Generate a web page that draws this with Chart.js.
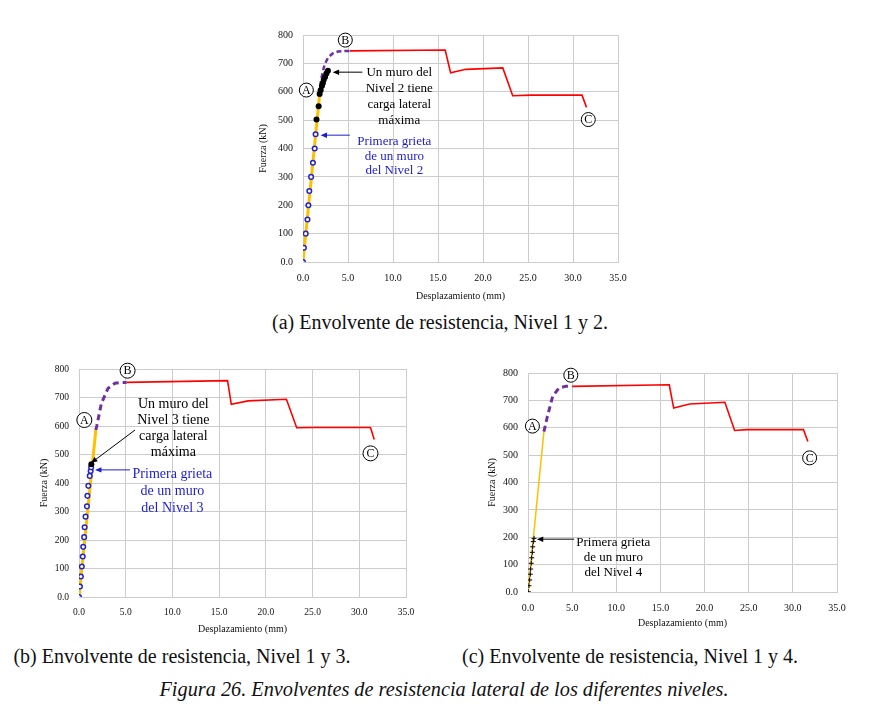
<!DOCTYPE html>
<html>
<head>
<meta charset="utf-8">
<script src="https://cdn.jsdelivr.net/npm/chart.js@4.4.1/dist/chart.umd.min.js"></script>
<style>
  html, body { margin: 0; padding: 0; background: #fff; }
  body { width: 870px; height: 705px; position: relative; overflow: hidden;
         font-family: 'Liberation Serif', 'Times New Roman', serif; color: #111; }
  canvas { position: absolute; }
  .cap { position: absolute; font-size: 20px; white-space: nowrap; transform: translateX(-50%); line-height: 1; }
  .fig { font-style: italic; font-size: 20.3px; }
</style>
</head>
<body>
<canvas id="chartA"></canvas>
<canvas id="chartB"></canvas>
<canvas id="chartC"></canvas>
<div class="cap" style="left:440px; top:312px;">(a) Envolvente de resistencia, Nivel 1 y 2.</div>
<div class="cap" style="left:182px; top:646px;">(b) Envolvente de resistencia, Nivel 1 y 3.</div>
<div class="cap" style="left:630px; top:646px;">(c) Envolvente de resistencia, Nivel 1 y 4.</div>
<div class="cap fig" style="left:444px; top:679px;">Figura 26. Envolventes de resistencia lateral de los diferentes niveles.</div>
<script>
// tick labels and titles
const xTickLabels = ['0.0', '5.0', '10.0', '15.0', '20.0', '25.0', '30.0', '35.0'];
const yTickLabels = ['0.0', '100', '200', '300', '400', '500', '600', '700', '800'];
const xTitle = 'Desplazamiento (mm)';
const yTitle = 'Fuerza (kN)';

// ---- (a) Nivel 1 y 2 ----
const elasticA_x = [0, 1.85];
const elasticA_y = [0, 592];
const crackA_x = [0, 0.1, 0.3, 0.5, 0.6, 0.7, 0.9, 1.1, 1.3, 1.4];
const crackA_y = [0, 50, 100, 150, 200, 250, 300, 350, 400, 450];
const maxA_x = [1.5, 1.74, 1.85, 1.96, 2.1, 2.2, 2.3, 2.45, 2.6, 2.77];
const maxA_y = [502, 549, 592, 605, 620, 630, 641, 652, 664, 674];
const transA_x = [1.85, 2.0, 2.2, 2.4, 2.8, 3.3, 3.9, 4.6, 5.2];
const transA_y = [592, 641, 670, 696, 721, 735, 742, 744, 744];
const plasticA_x = [5.2, 15.8, 16.4, 18.1, 22.2, 23.3, 25.3, 31.0, 31.5];
const plasticA_y = [744, 747, 667, 679, 684, 586, 588, 588, 545];

// ---- (b) Nivel 1 y 3 ----
const elasticB_x = [0, 1.8];
const elasticB_y = [0, 586];
const crackB_x = [0, 0.1, 0.2, 0.3, 0.4, 0.45, 0.55, 0.6, 0.7, 0.85, 0.9, 1.0, 1.15, 1.25, 1.3];
const crackB_y = [0, 37, 72, 107, 142, 176, 210, 245, 282, 318, 355, 390, 425, 442, 455];
const maxB_x = [1.32];
const maxB_y = [466];
const transB_x = [1.8, 1.9, 2.4, 3.1, 3.85, 4.6, 5.1];
const transB_y = [586, 600, 680, 732, 750, 753, 753];
const plasticB_x = [5.1, 15.9, 16.3, 18.1, 22.2, 23.3, 25.1, 31.2, 31.6];
const plasticB_y = [753, 759, 676, 688, 694, 594, 595, 595, 553];

// ---- (c) Nivel 1 y 4 ----
const elasticC_x = [0, 1.8];
const elasticC_y = [0, 586];
const crackC_x = [0.03, 0.11, 0.19, 0.26, 0.3, 0.37, 0.42, 0.49, 0.53, 0.6, 0.68];
const crackC_y = [1, 23, 44, 65, 84, 105, 125, 145, 165, 184, 196];
const transC_x = [1.8, 2.2, 2.8, 3.5, 4.3, 5.0];
const transC_y = [586, 642, 715, 745, 752, 752];
const plasticC_x = [5.0, 16.0, 16.5, 18.3, 22.3, 23.4, 24.8, 31.2, 31.7];
const plasticC_y = [751, 757, 672, 687, 693, 590, 593, 593, 550];

const FONT = "'Liberation Serif', 'Times New Roman', serif";

function pts(xs, ys) {
    return xs.map((x, i) => ({x: x, y: ys[i]}));
}

// letters in circles, texts and arrows, placed in data units
const notesPlugin = {
    id: 'notes',
    afterDatasetsDraw(chart, args, opts) {
        const ctx = chart.ctx;
        const sx = chart.scales.x, sy = chart.scales.y;
        const px = v => sx.getPixelForValue(v);
        const py = v => sy.getPixelForValue(v);
        ctx.save();
        for (const c of opts.circles || []) {
            ctx.beginPath();
            ctx.arc(px(c.x), py(c.y), opts.r, 0, Math.PI * 2);
            ctx.fillStyle = '#fff';
            ctx.fill();
            ctx.lineWidth = 1;
            ctx.strokeStyle = '#000';
            ctx.stroke();
            ctx.fillStyle = '#000';
            ctx.font = '12px ' + FONT;
            ctx.textAlign = 'center';
            ctx.textBaseline = 'middle';
            ctx.fillText(c.t, px(c.x), py(c.y) + 0.5);
        }
        for (const n of opts.texts || []) {
            ctx.fillStyle = n.color;
            ctx.font = n.size + 'px ' + FONT;
            ctx.textAlign = 'center';
            ctx.textBaseline = 'middle';
            n.lines.forEach((l, i) => ctx.fillText(l, px(n.x), py(n.y) + i * n.lh));
        }
        for (const a of opts.arrows || []) {
            const x1 = px(a.x1), y1 = py(a.y1), x2 = px(a.x2), y2 = py(a.y2);
            const ang = Math.atan2(y2 - y1, x2 - x1);
            ctx.strokeStyle = a.color;
            ctx.fillStyle = a.color;
            ctx.lineWidth = 1;
            ctx.beginPath();
            ctx.moveTo(x1, y1);
            ctx.lineTo(x2 - 5 * Math.cos(ang), y2 - 5 * Math.sin(ang));
            ctx.stroke();
            ctx.beginPath();
            ctx.moveTo(x2, y2);
            ctx.lineTo(x2 - 7 * Math.cos(ang - 0.4), y2 - 7 * Math.sin(ang - 0.4));
            ctx.lineTo(x2 - 7 * Math.cos(ang + 0.4), y2 - 7 * Math.sin(ang + 0.4));
            ctx.closePath();
            ctx.fill();
        }
        ctx.restore();
    }
};

function makeChart(id, box, datasets, notes, tickSize) {
    // box = plot area [left, top, right, bottom], y title x, x title y
    const [pl, pt, pr, pb] = box.plot;
    const left = box.yTitleX - 10, bottom = box.xTitleY + 10;
    const top = pt - 20, right = pr + 20;
    const cv = document.getElementById(id);
    cv.style.left = left + 'px';
    cv.style.top = top + 'px';
    cv.style.width = (right - left) + 'px';
    cv.style.height = (bottom - top) + 'px';
    cv.width = right - left;
    cv.height = bottom - top;
    const gridColor = '#cccccc';
    return new Chart(cv, {
        type: 'scatter',
        data: {datasets: datasets},
        options: {
            responsive: false,
            animation: false,
            devicePixelRatio: 1,
            layout: {padding: {top: 20, right: 20, left: 0, bottom: 0}},
            plugins: {legend: {display: false}, tooltip: {enabled: false}, notes: notes},
            scales: {
                x: {
                    type: 'linear', min: 0, max: 35,
                    afterFit: s => { s.height = bottom - pb; },
                    ticks: {stepSize: 5, padding: 10, color: '#111', font: {family: FONT, size: tickSize},
                            callback: (v) => xTickLabels[Math.round(v / 5)]},
                    grid: {color: gridColor, drawTicks: false},
                    border: {color: gridColor},
                    title: {display: true, text: xTitle, color: '#111', font: {family: FONT, size: 10}, padding: 4}
                },
                y: {
                    type: 'linear', min: 0, max: 800,
                    afterFit: s => { s.width = pl - left; },
                    ticks: {stepSize: 100, padding: 10, color: '#111', font: {family: FONT, size: tickSize},
                            callback: (v) => yTickLabels[Math.round(v / 100)]},
                    grid: {color: gridColor, drawTicks: false},
                    border: {color: gridColor},
                    title: {display: true, text: yTitle, color: '#111', font: {family: FONT, size: 10}, padding: 4}
                }
            }
        },
        plugins: [notesPlugin]
    });
}

const YELLOW = '#FFC000', PURPLE = '#7030A0', RED = '#FF0000', BLUE = '#2424c8';

function lineSet(xs, ys, color, width, dash) {
    return {data: pts(xs, ys), showLine: true, borderColor: color, borderWidth: width,
            borderDash: dash || [], pointRadius: 0, tension: 0, fill: false};
}
function circleSet(xs, ys) {
    return {data: pts(xs, ys), showLine: false, pointStyle: 'circle', pointRadius: 2.3,
            pointBorderWidth: 1.5, pointBorderColor: BLUE, pointBackgroundColor: '#fff'};
}
function dotSet(xs, ys) {
    return {data: pts(xs, ys), showLine: false, pointStyle: 'circle', pointRadius: 3,
            pointBorderWidth: 0, pointBackgroundColor: '#000'};
}
function crossSet(xs, ys) {
    return {data: pts(xs, ys), showLine: false, pointStyle: 'cross', pointRadius: 2.5,
            pointBorderWidth: 1, pointBorderColor: '#000'};
}

makeChart('chartA', {plot: [303, 35, 618, 262], yTitleX: 263, xTitleY: 296}, [
    dotSet(maxA_x, maxA_y),
    circleSet(crackA_x, crackA_y),
    lineSet(transA_x, transA_y, PURPLE, 2.5, [5, 3]),
    lineSet(elasticA_x, elasticA_y, YELLOW, 3),
    lineSet(plasticA_x, plasticA_y, RED, 1.6)
], {
    r: 7,
    circles: [{t: 'A', x: 0.37, y: 606}, {t: 'B', x: 4.7, y: 782}, {t: 'C', x: 31.7, y: 502}],
    texts: [
        {lines: ['Un muro del', 'Nivel 2 tiene', 'carga lateral', 'máxima'], x: 10.7, y: 669, lh: 16, size: 13, color: '#000'},
        {lines: ['Primera grieta', 'de un muro', 'del Nivel 2'], x: 10.15, y: 423, lh: 14.5, size: 13, color: '#1c1cd0'}
    ],
    arrows: [
        {x1: 6.6, y1: 669, x2: 3.3, y2: 669, color: '#000'},
        {x1: 5.2, y1: 447, x2: 1.95, y2: 447, color: '#1c1cd0'}
    ]
}, 10);

makeChart('chartB', {plot: [79, 369, 406, 597], yTitleX: 44, xTitleY: 629}, [
    dotSet(maxB_x, maxB_y),
    circleSet(crackB_x, crackB_y),
    lineSet(transB_x, transB_y, PURPLE, 3, [6, 4]),
    lineSet(elasticB_x, elasticB_y, YELLOW, 3),
    lineSet(plasticB_x, plasticB_y, RED, 1.6)
], {
    r: 7.5,
    circles: [{t: 'A', x: 0.57, y: 621}, {t: 'B', x: 5.2, y: 794}, {t: 'C', x: 31.2, y: 504}],
    texts: [
        {lines: ['Un muro del', 'Nivel 3 tiene', 'carga lateral', 'máxima'], x: 10.1, y: 677, lh: 16, size: 14, color: '#000'},
        {lines: ['Primera grieta', 'de un muro', 'del Nivel 3'], x: 10.0, y: 432, lh: 17, size: 14, color: '#1c1cd0'}
    ],
    arrows: [
        {x1: 6.0, y1: 586, x2: 1.28, y2: 470, color: '#000'},
        {x1: 5.46, y1: 446, x2: 1.71, y2: 446, color: '#1c1cd0'}
    ]
}, 9.5);

makeChart('chartC', {plot: [528, 373, 837, 592], yTitleX: 492, xTitleY: 623}, [
    crossSet(crackC_x, crackC_y),
    lineSet(transC_x, transC_y, PURPLE, 3, [6, 4]),
    lineSet(elasticC_x, elasticC_y, YELLOW, 1.5),
    lineSet(plasticC_x, plasticC_y, RED, 1.6)
], {
    r: 7,
    circles: [{t: 'A', x: 0.5, y: 606}, {t: 'B', x: 4.85, y: 792}, {t: 'C', x: 31.9, y: 490}],
    texts: [
        {lines: ['Primera grieta', 'de un muro', 'del Nivel 4'], x: 9.66, y: 179, lh: 15, size: 13, color: '#000'}
    ],
    arrows: [
        {x1: 5.23, y1: 193, x2: 1.0, y2: 193, color: '#000'}
    ]
}, 10);
</script>
</body>
</html>
